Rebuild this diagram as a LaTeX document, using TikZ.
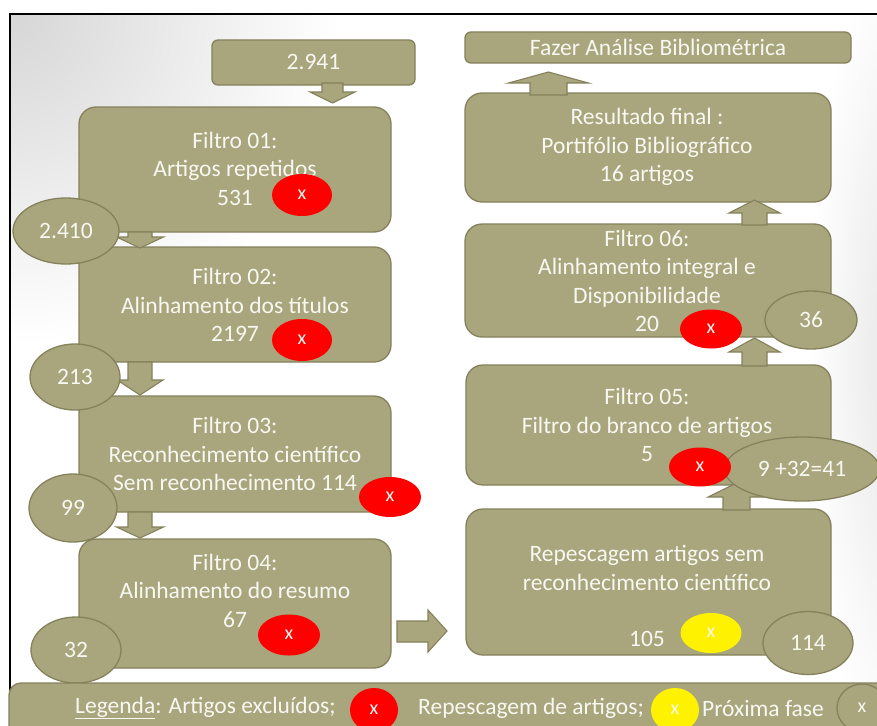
\documentclass[tikz,border=0pt]{standalone}
\usepackage{fontspec}
\setmainfont{Carlito}
\usetikzlibrary{shapes.geometric}
\definecolor{olive1}{RGB}{169,165,124}
\definecolor{olive2}{RGB}{133,129,92}
\definecolor{txtc}{RGB}{248,248,242}
\newcommand\blkarrow[6]{% cx, start, headbase, tip, shaft half, head half
  \filldraw[barrow] (#1-#5,#2) -- (#1+#5,#2) -- (#1+#5,#3) -- (#1+#6,#3) -- (#1,#4) -- (#1-#6,#3) -- (#1-#5,#3) -- cycle;}
\tikzset{
  bx/.style={draw=olive2, fill=olive1, line width=1.3pt, rounded corners=17pt, inner sep=0pt},
  sbx/.style={bx, rounded corners=6pt},
  ov/.style={ellipse, draw=olive2, fill=olive1, line width=1.3pt, inner sep=0pt, text=txtc, font=\fontsize{23.5}{28}\selectfont},
  redx/.style={ellipse, fill=red, inner sep=0pt, text=txtc, font=\fontsize{20}{22}\selectfont},
  yelx/.style={ellipse, fill=yellow, inner sep=0pt, text=txtc, font=\fontsize{20}{22}\selectfont},
  tx/.style={text=txtc, align=center, font=\fontsize{23.5}{28.5}\selectfont, inner sep=0pt},
  barrow/.style={draw=olive2, fill=olive1, line width=1.1pt, line join=miter}
}
\begin{document}
\begin{tikzpicture}[x=1pt,y=-1pt]
\useasboundingbox (0,0) rectangle (877,725);
\clip (0,0) rectangle (877,725);
\fill[white] (0,0) rectangle (877,725);
% background gradient
\begin{scope}
  \clip (10,14) rectangle (877,725);
  \shade[inner color=black!16, outer color=white] (10,14) circle (330pt);
  \shade[inner color=black!10, outer color=white] (900,360) ellipse (90pt and 420pt);
\end{scope}
% frame
\draw[line width=2.5pt] (10,760) -- (10,14) -- (900,14);

% boxes, left column
\node[sbx, minimum width=203pt, minimum height=45pt] (n0) at (313.5,62.5) {};
\node[bx, minimum width=312pt, minimum height=125pt] (f1) at (235,169.5) {};
\node[bx, minimum width=312pt, minimum height=115pt] (f2) at (235,304.5) {};
\node[bx, minimum width=312pt, minimum height=116pt] (f3) at (235,454) {};
\node[bx, minimum width=312pt, minimum height=129pt] (f4) at (235,603.5) {};
% boxes, right column
\node[sbx, minimum width=386pt, minimum height=31pt] (fz) at (658,47.5) {};
\node[bx, minimum width=366pt, minimum height=109pt] (rf) at (648,147.5) {};
\node[bx, minimum width=366pt, minimum height=113pt] (f6) at (648,280.5) {};
\node[bx, minimum width=365pt, minimum height=120pt] (f5) at (648.5,425) {};
\node[bx, minimum width=365pt, minimum height=146pt] (rp) at (648.5,582) {};

% block arrows
\blkarrow{332.5}{83}{92}{103}{10.5}{22.5}
\blkarrow{140}{232}{237}{248}{12}{23.5}
\blkarrow{140}{362}{380}{395}{12}{23}
\blkarrow{140}{512}{527}{538}{12}{23.5}
\blkarrow{548.5}{95}{83}{72}{18.5}{40}
\blkarrow{754.5}{225}{213}{200}{12.5}{25.5}
\blkarrow{754.5}{366}{352}{338}{12.5}{25.5}
\blkarrow{736.5}{510}{497}{483}{13.5}{28.5}
\filldraw[barrow] (397,621) -- (428,621) -- (428,610) -- (447,631) -- (428,652) -- (428,642) -- (397,642) -- cycle;

% texts
\node[tx] (t0) at (313.5,62) {2.941};
\node[tx] (t1) at (235,168.5) {Filtro 01:\\Artigos repetidos\\531};
\node[tx] (t2) at (235,305) {Filtro 02:\\Alinhamento dos títulos\\2197};
\node[tx] (t3) at (235,454) {Filtro 03:\\Reconhecimento científico\\Sem reconhecimento 114};
\node[tx] (t4) at (235,590.5) {Filtro 04:\\Alinhamento do resumo\\67};
\node[tx] (tz) at (658,47.5) {Fazer Análise Bibliométrica};
\node[tx] (tr) at (647,147) {Resultado final :\\Portifólio Bibliográfico\\16 artigos};
\node[tx] (t6) at (647,281) {Filtro 06:\\Alinhamento integral e\\Disponibilidade\\20};
\node[tx] (t5) at (647,425) {Filtro 05:\\Filtro do branco de artigos\\5};
\node[tx] (tp) at (647,568) {Repescagem artigos sem\\reconhecimento científico};
\node[tx] (tq) at (647,639) {105};

% count ellipses
\node[ov, minimum width=106pt, minimum height=66pt] (e1) at (66,231) {2.410};
\node[ov, minimum width=90pt, minimum height=66pt] (e2) at (75,377) {213};
\node[ov, minimum width=88pt, minimum height=68pt] (e3) at (73,508) {99};
\node[ov, minimum width=90pt, minimum height=66pt] (e4) at (76,650) {32};
\node[ov, minimum width=92pt, minimum height=58pt] (e6) at (811,320) {36};
\node[ov, minimum width=155pt, minimum height=64pt] (e5) at (802,469) {9 +32=41};
\node[ov, minimum width=90pt, minimum height=63pt] (e7) at (808,643) {114};

% red / yellow markers
\node[redx, minimum width=60pt, minimum height=42pt] (x1) at (302,195) {x};
\node[redx, minimum width=60pt, minimum height=42pt] (x2) at (302,340) {x};
\node[redx, minimum width=62pt, minimum height=40pt] (x3) at (390,497) {x};
\node[redx, minimum width=62pt, minimum height=41pt] (x4) at (289,635) {x};
\node[redx, minimum width=62pt, minimum height=39pt] (x6) at (711,329) {x};
\node[redx, minimum width=62pt, minimum height=39pt] (x5) at (700,467) {x};
\node[yelx, minimum width=61pt, minimum height=40pt] (y1) at (711,633) {x};

% legend
\node[bx, rounded corners=12pt, minimum width=891pt, minimum height=62pt] (leg) at (454.5,714) {};
\node[tx, anchor=west] (l1) at (75,708) {\underline{Legenda}: Artigos excluídos;};
\node[redx, minimum width=48pt, minimum height=44pt] (lx) at (374,710) {x};
\node[tx, anchor=west] (l2) at (418,708) {Repescagem de artigos;};
\node[yelx, minimum width=48pt, minimum height=44pt] (ly) at (675,710) {x};
\node[tx, anchor=west] (l3) at (702,708) {Próxima fase};
\node[ov, minimum width=50pt, minimum height=48pt, font=\fontsize{20}{22}\selectfont] (lo) at (862,708) {x};
\end{tikzpicture}
\end{document}
